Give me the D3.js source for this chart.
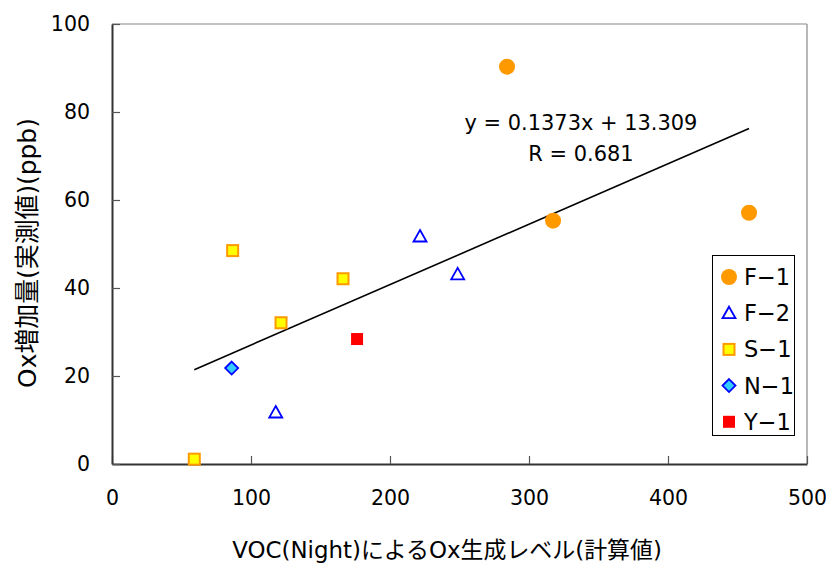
<!DOCTYPE html>
<html><head><meta charset="utf-8">
<script src="https://cdn.jsdelivr.net/npm/d3@7"></script>
<style>body{margin:0;background:#fff;} text{font-family:"DejaVu Sans","Noto Sans CJK JP",sans-serif;fill:#000;}</style>
</head><body><svg id="c" width="826" height="565"></svg>
<script>
const seriesNames = ["F−1","F−2","S−1","N−1","Y−1"];
const f1X = [284.2, 317.3, 458.3];
const f1Y = [90.3, 55.3, 57.1];
const f2X = [221.6, 248.7, 117.8];
const f2Y = [51.7, 43.1, 11.7];
const s1X = [59.2, 86.8, 166.2, 121.6];
const s1Y = [1.1, 48.5, 42.1, 32.1];
const n1X = [86.1];
const n1Y = [21.8];
const y1X = [176.3];
const y1Y = [28.4];
const xTicks = [0,100,200,300,400,500];
const yTicks = [0,20,40,60,80,100];
const slope = 0.1373, intercept = 13.309;
const eqText = "y = 0.1373x + 13.309";
const rText = "R = 0.681";
const xTitle = "VOC(Night)によるOx生成レベル(計算値)";
const yTitle = "Ox増加量(実測値)(ppb)";

const svg = d3.select("#c");
const L=112, R=807, T=24, B=464;
const x = d3.scaleLinear().domain([0,500]).range([L,R]);
const y = d3.scaleLinear().domain([0,100]).range([B,T]);

function fitText(sel, w){ const n=sel.node(); const cur=n.getComputedTextLength(); const fs=parseFloat(sel.attr("font-size")); sel.attr("font-size", fs*w/cur); }

// frame top/right
svg.append("line").attr("x1",L).attr("x2",R).attr("y1",T).attr("y2",T).attr("stroke","#888").attr("stroke-width",1.2);
svg.append("line").attr("x1",R).attr("x2",R).attr("y1",T).attr("y2",B).attr("stroke","#888").attr("stroke-width",1.2);

const fs = 20.5;
const xa = svg.append("g").attr("transform",`translate(0,${B})`)
  .call(d3.axisBottom(x).tickValues(xTicks).tickSizeInner(-8).tickSizeOuter(0).tickPadding(26));
xa.select(".domain").attr("stroke","#333").attr("stroke-width",2);
xa.selectAll(".tick line").attr("stroke","#555").attr("stroke-width",1.2);
xa.selectAll("text").attr("font-size",fs).attr("font-family","DejaVu Sans");
const ya = svg.append("g").attr("transform",`translate(${L},0)`)
  .call(d3.axisLeft(y).tickValues(yTicks).tickSizeInner(-8).tickSizeOuter(0).tickPadding(22));
ya.select(".domain").attr("stroke","#333").attr("stroke-width",2);
ya.selectAll(".tick line").attr("stroke","#555").attr("stroke-width",1.2);
ya.selectAll("text").attr("font-size",fs).attr("font-family","DejaVu Sans");

// trendline
const allX = [].concat(f1X,f2X,s1X,n1X,y1X);
const xmin = d3.min(allX), xmax = d3.max(allX);
svg.append("line").attr("x1",x(xmin)).attr("y1",y(slope*xmin+intercept))
  .attr("x2",x(xmax)).attr("y2",y(slope*xmax+intercept)).attr("stroke","#000").attr("stroke-width",1.6);

const eq = svg.append("text").attr("x",581).attr("y",130).attr("text-anchor","middle").attr("font-size",19).text(eqText);
fitText(eq, 233);
const rr = svg.append("text").attr("x",581).attr("y",161).attr("text-anchor","middle").attr("font-size",eq.attr("font-size")).text(rText);

function marker(g, type, cx, cy){
  if(type===0) g.append("circle").attr("cx",cx).attr("cy",cy).attr("r",8).attr("fill","#FF9900");
  else if(type===1) g.append("path").attr("d",`M${cx},${cy-6.5}L${cx+6.5},${cy+5}L${cx-6.5},${cy+5}Z`).attr("fill","#fff").attr("stroke","#0000FF").attr("stroke-width",1.8);
  else if(type===2) g.append("rect").attr("x",cx-5.5).attr("y",cy-5.5).attr("width",11).attr("height",11).attr("fill","#FFFF00").attr("stroke","#FF9900").attr("stroke-width",2);
  else if(type===3) g.append("path").attr("d",`M${cx},${cy-6.5}L${cx+6.5},${cy}L${cx},${cy+6.5}L${cx-6.5},${cy}Z`).attr("fill","#33CCFF").attr("stroke","#0000FF").attr("stroke-width",1.8);
  else g.append("rect").attr("x",cx-6).attr("y",cy-6).attr("width",12).attr("height",12).attr("fill","#FF0000");
}
const series = [[f1X,f1Y],[f2X,f2Y],[s1X,s1Y],[n1X,n1Y],[y1X,y1Y]];
const mg = svg.append("g");
series.forEach((s,i)=>{ s[0].forEach((v,j)=>marker(mg,i,x(v),y(s[1][j]))); });

// legend
const lg = svg.append("g");
lg.append("rect").attr("x",712.5).attr("y",255.5).attr("width",82).attr("height",180).attr("fill","#fff").attr("stroke","#000").attr("stroke-width",1);
seriesNames.forEach((n,i)=>{
  const cy = 277 + i*36.2;
  marker(lg,i,729,cy);
  lg.append("text").attr("x",744).attr("y",cy+8).attr("font-size",22.5).attr("font-family","Liberation Sans").text(n);
});

const xt = svg.append("text").attr("x",447).attr("y",558).attr("text-anchor","middle").attr("font-size",22).text(xTitle);
fitText(xt, 430);
const yt = svg.append("text").attr("transform","translate(36,253) rotate(-90)").attr("text-anchor","middle").attr("font-size",17).text(yTitle);
fitText(yt, 270);
</script></body></html>
